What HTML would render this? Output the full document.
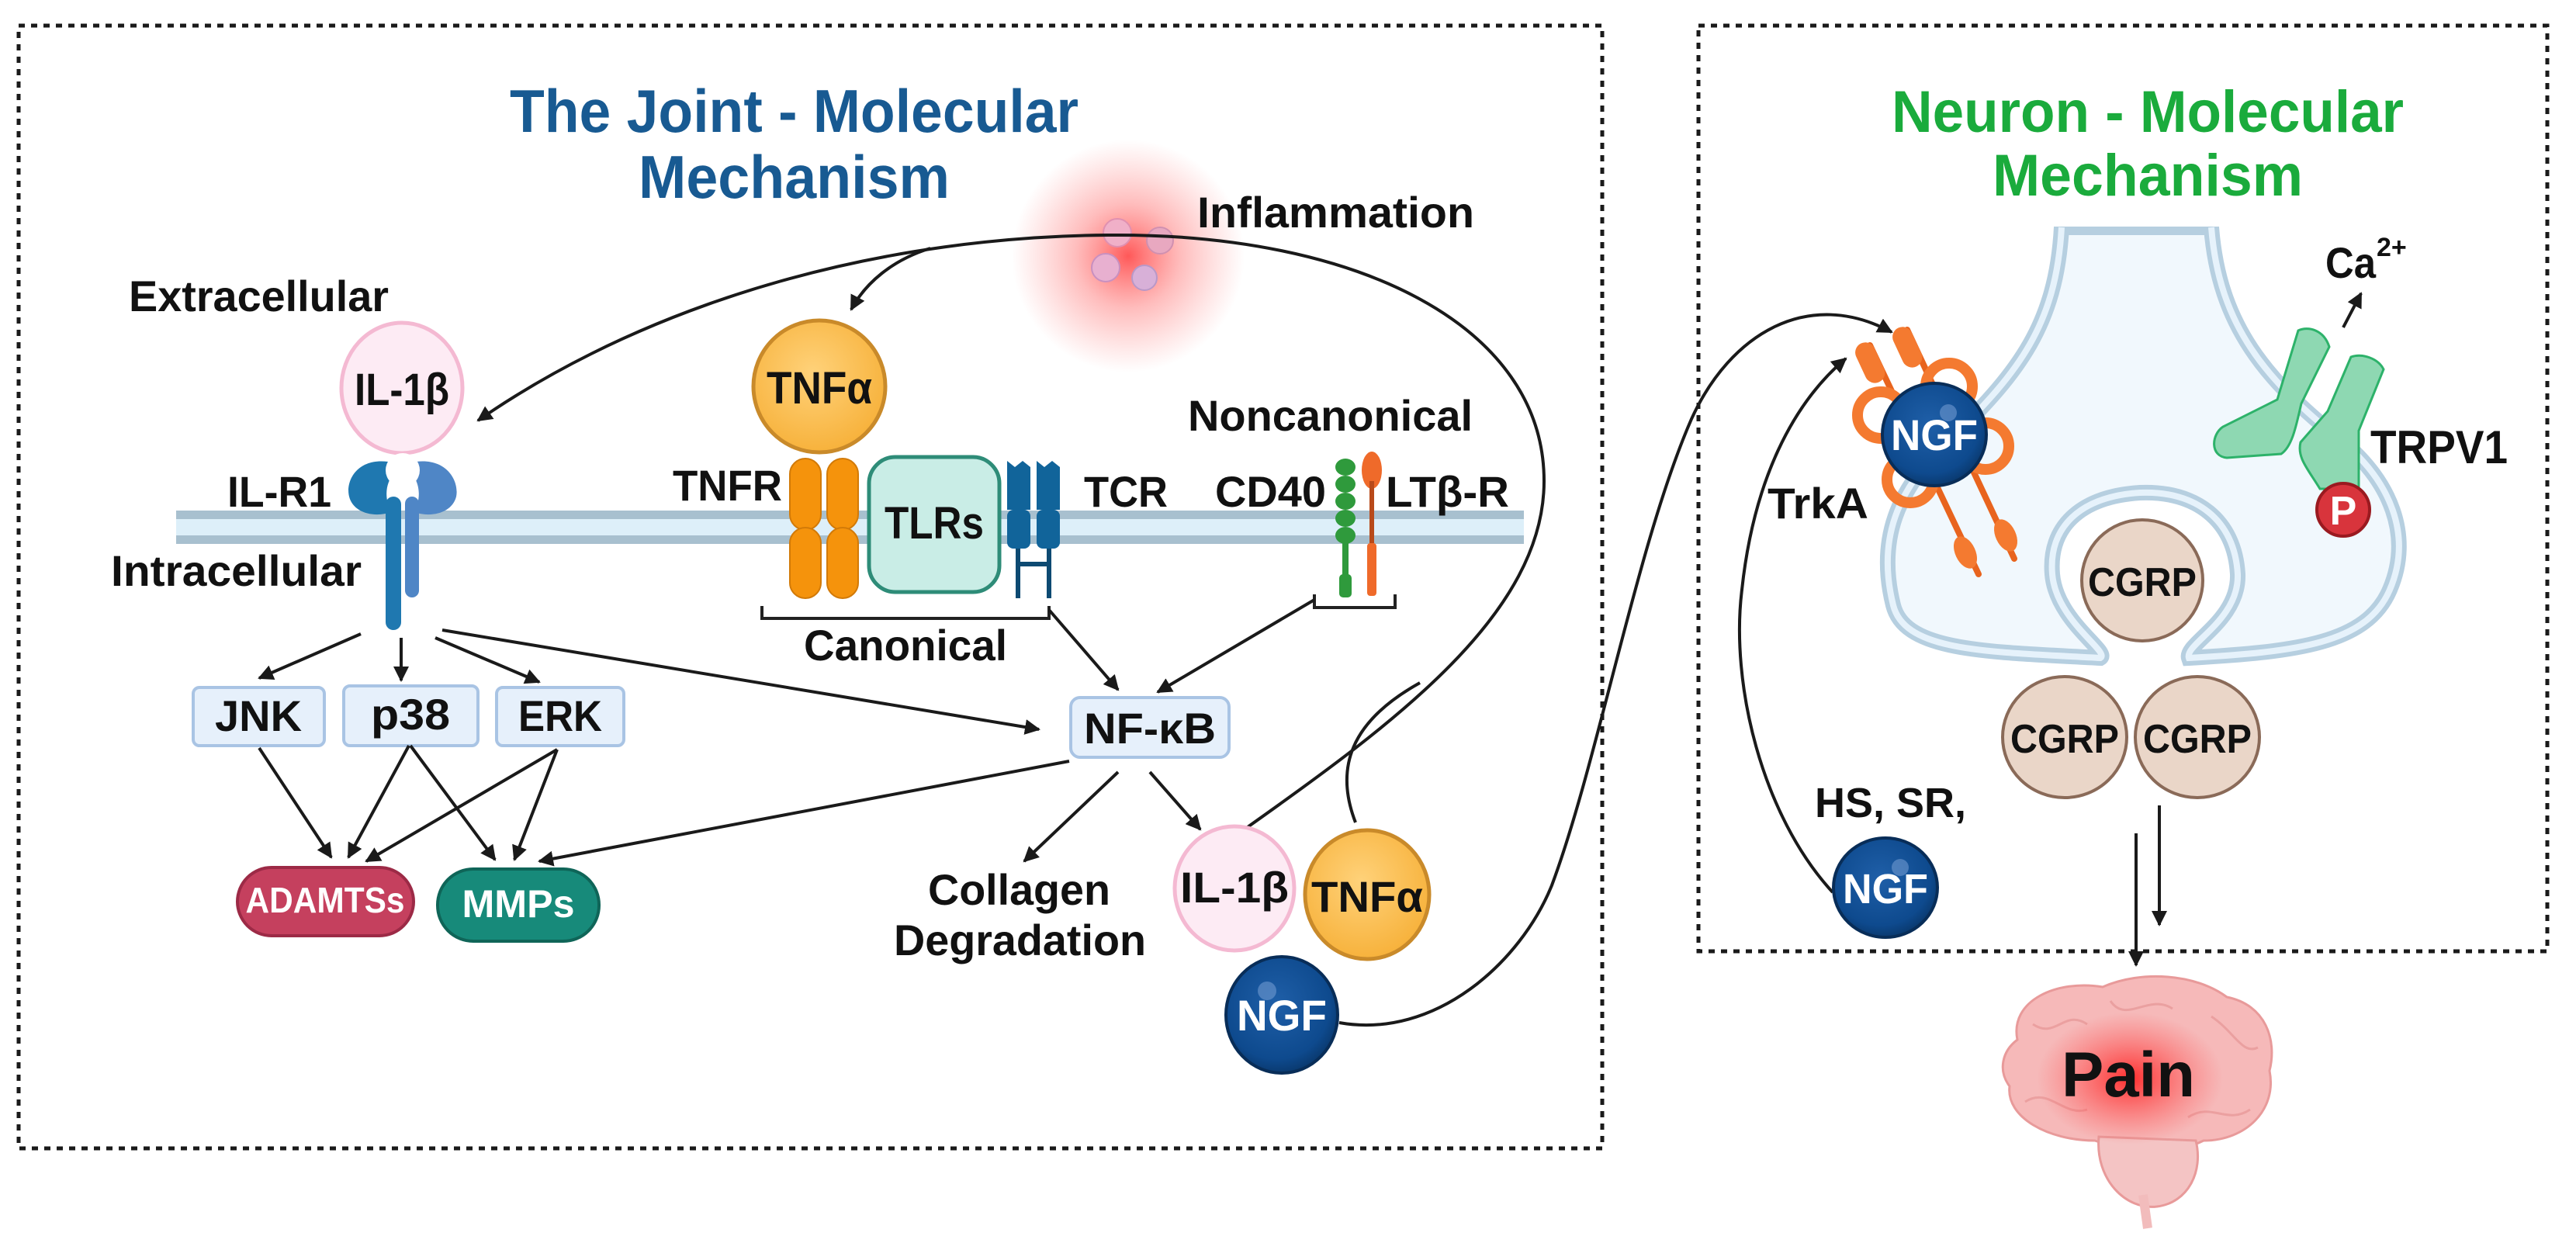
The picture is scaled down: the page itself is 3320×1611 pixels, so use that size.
<!DOCTYPE html>
<html><head><meta charset="utf-8"><style>
html,body{margin:0;padding:0;background:#fff;}
svg{display:block;}
text{font-family:"Liberation Sans",sans-serif;font-weight:bold;}
</style></head><body>
<svg width="3320" height="1611" viewBox="0 0 3320 1611" xmlns="http://www.w3.org/2000/svg">
<defs>
<marker id="ah" viewBox="0 0 10 10" refX="9" refY="5" markerWidth="5" markerHeight="5" orient="auto-start-reverse" markerUnits="strokeWidth">
<path d="M0,0 L10,5 L0,10 z" fill="#1a1a1a"/></marker>
<radialGradient id="glow"><stop offset="0" stop-color="#ff3b3b" stop-opacity="0.85"/><stop offset="0.45" stop-color="#ff6b6b" stop-opacity="0.45"/><stop offset="1" stop-color="#ff8080" stop-opacity="0"/></radialGradient>
<radialGradient id="bglow"><stop offset="0" stop-color="#ff2020" stop-opacity="0.9"/><stop offset="1" stop-color="#ff5050" stop-opacity="0"/></radialGradient>
<radialGradient id="ngf" cx="0.45" cy="0.4" r="0.6"><stop offset="0" stop-color="#1f5fa8"/><stop offset="0.8" stop-color="#0e4a8e"/><stop offset="1" stop-color="#0a3a70"/></radialGradient>
<radialGradient id="tnf" cx="0.45" cy="0.4" r="0.6"><stop offset="0" stop-color="#ffd27a"/><stop offset="1" stop-color="#f7b23c"/></radialGradient>
</defs>

<rect x="24" y="33" width="2041" height="1447" fill="none" stroke="#1a1a1a" stroke-width="5" stroke-dasharray="8 8"/>
<rect x="2189" y="33" width="1094" height="1193" fill="none" stroke="#1a1a1a" stroke-width="5" stroke-dasharray="8 8"/>

<text x="657" y="170" font-size="78" fill="#185a92" textLength="733" lengthAdjust="spacingAndGlyphs">The Joint - Molecular</text>
<text x="823" y="255" font-size="78" fill="#185a92" textLength="401" lengthAdjust="spacingAndGlyphs">Mechanism</text>
<text x="2438" y="170" font-size="76" fill="#1aab3c" textLength="660" lengthAdjust="spacingAndGlyphs">Neuron - Molecular</text>
<text x="2568" y="252" font-size="76" fill="#1aab3c" textLength="400" lengthAdjust="spacingAndGlyphs">Mechanism</text>

<circle cx="1454" cy="330" r="150" fill="url(#glow)"/>
<circle cx="1440" cy="300" r="18" fill="#f0b0c8" stroke="#e090b0" stroke-width="2"/>
<circle cx="1495" cy="310" r="17" fill="#e8a8c0" stroke="#d090b0" stroke-width="2"/>
<circle cx="1425" cy="345" r="18" fill="#e8b0d0" stroke="#c890c0" stroke-width="2"/>
<circle cx="1475" cy="358" r="16" fill="#d8b0d8" stroke="#b898c8" stroke-width="2"/>
<text x="1543" y="293" font-size="56" fill="#111" textLength="357" lengthAdjust="spacingAndGlyphs">Inflammation</text>

<rect x="227" y="658" width="1737" height="43" fill="#ddeff9"/>
<rect x="227" y="658" width="1737" height="11" fill="#a8c0cf"/>
<rect x="227" y="690" width="1737" height="11" fill="#a8c0cf"/>

<text x="166" y="401" font-size="56" fill="#111" textLength="335" lengthAdjust="spacingAndGlyphs">Extracellular</text>
<text x="293" y="653" font-size="56" fill="#111" textLength="134" lengthAdjust="spacingAndGlyphs">IL-R1</text>
<text x="143" y="755" font-size="56" fill="#111" textLength="323" lengthAdjust="spacingAndGlyphs">Intracellular</text>

<ellipse cx="518" cy="500" rx="78" ry="84" fill="#fdebf4" stroke="#f4b9d2" stroke-width="5"/>
<text x="518" y="522" font-size="58" fill="#111" text-anchor="middle" textLength="122" lengthAdjust="spacingAndGlyphs">IL-1β</text>

<path d="M500,595 C460,590 445,620 450,640 C455,660 480,668 505,660 C495,645 495,620 512,606 Z" fill="#1f78b0"/>
<path d="M536,595 C576,590 592,620 588,640 C583,660 558,668 533,660 C543,645 543,620 526,606 Z" fill="#4f86c6"/>
<circle cx="519" cy="606" r="22" fill="#fff"/>
<rect x="497" y="640" width="20" height="172" rx="10" fill="#1f78b0"/>
<rect x="522" y="640" width="18" height="130" rx="9" fill="#4f86c6"/>

<circle cx="1056" cy="498" r="85" fill="url(#tnf)" stroke="#c98a2a" stroke-width="5"/>
<text x="1056" y="520" font-size="58" fill="#111" text-anchor="middle" textLength="136" lengthAdjust="spacingAndGlyphs">TNFα</text>
<g fill="#f5930c" stroke="#d27a08" stroke-width="2">
<rect x="1018" y="591" width="40" height="92" rx="20"/><rect x="1018" y="680" width="40" height="91" rx="20"/>
<rect x="1066" y="591" width="40" height="92" rx="20"/><rect x="1066" y="680" width="40" height="91" rx="20"/>
</g>
<text x="867" y="645" font-size="56" fill="#111" textLength="141" lengthAdjust="spacingAndGlyphs">TNFR</text>
<rect x="1120" y="589" width="168" height="174" rx="34" fill="#c9ede6" stroke="#2e8c78" stroke-width="5"/>
<text x="1204" y="694" font-size="58" fill="#111" text-anchor="middle" textLength="128" lengthAdjust="spacingAndGlyphs">TLRs</text>
<g fill="#11649a">
<path d="M1298,594 l10,8 l10,-8 l10,8 l0,55 l-30,0 z"/><rect x="1298" y="657" width="30" height="50" rx="8"/>
<path d="M1336,594 l10,8 l10,-8 l10,8 l0,55 l-30,0 z"/><rect x="1336" y="657" width="30" height="50" rx="8"/>
</g>
<g stroke="#0d4a72" stroke-width="6"><line x1="1312" y1="707" x2="1312" y2="771"/><line x1="1352" y1="707" x2="1352" y2="771"/><line x1="1312" y1="727" x2="1352" y2="727"/></g>
<text x="1397" y="653" font-size="56" fill="#111" textLength="108" lengthAdjust="spacingAndGlyphs">TCR</text>
<text x="1531" y="555" font-size="56" fill="#111" textLength="367" lengthAdjust="spacingAndGlyphs">Noncanonical</text>
<text x="1566" y="653" font-size="56" fill="#111" textLength="143" lengthAdjust="spacingAndGlyphs">CD40</text>
<text x="1786" y="653" font-size="56" fill="#111" textLength="159" lengthAdjust="spacingAndGlyphs">LTβ-R</text>
<g fill="#2f9a3c"><ellipse cx="1734" cy="602" rx="13" ry="11"/><ellipse cx="1734" cy="624" rx="13" ry="11"/><ellipse cx="1734" cy="646" rx="13" ry="11"/><ellipse cx="1734" cy="668" rx="13" ry="11"/><ellipse cx="1734" cy="690" rx="13" ry="11"/><rect x="1730" y="690" width="8" height="55"/><rect x="1726" y="740" width="16" height="30" rx="5"/></g>
<g fill="#ef6a2a"><ellipse cx="1768" cy="606" rx="13" ry="24"/><rect x="1765" y="620" width="6" height="80" fill="#b84a1a"/><rect x="1762" y="700" width="12" height="68" rx="4"/></g>
<path d="M982,781 L982,797 L1352,797 L1352,781" fill="none" stroke="#222" stroke-width="4"/>
<text x="1036" y="851" font-size="56" fill="#111" textLength="262" lengthAdjust="spacingAndGlyphs">Canonical</text>
<path d="M1694,766 L1694,783 L1798,783 L1798,766" fill="none" stroke="#222" stroke-width="4"/>

<g fill="#e6f0fb" stroke="#a9c4e4" stroke-width="4">
<rect x="249" y="886" width="169" height="75" rx="8"/>
<rect x="443" y="884" width="173" height="77" rx="8"/>
<rect x="640" y="886" width="164" height="75" rx="8"/>
<rect x="1380" y="899" width="204" height="77" rx="12"/>
</g>
<text x="333" y="942" font-size="56" fill="#111" text-anchor="middle" textLength="112" lengthAdjust="spacingAndGlyphs">JNK</text>
<text x="529" y="940" font-size="56" fill="#111" text-anchor="middle" textLength="102" lengthAdjust="spacingAndGlyphs">p38</text>
<text x="722" y="942" font-size="56" fill="#111" text-anchor="middle" textLength="108" lengthAdjust="spacingAndGlyphs">ERK</text>
<text x="1482" y="958" font-size="56" fill="#111" text-anchor="middle" textLength="170" lengthAdjust="spacingAndGlyphs">NF-κB</text>
<rect x="306" y="1118" width="227" height="88" rx="44" fill="#c5405e" stroke="#9c2a46" stroke-width="4"/>
<text x="419" y="1176" font-size="46" fill="#fff" text-anchor="middle" textLength="205" lengthAdjust="spacingAndGlyphs">ADAMTSs</text>
<rect x="564" y="1120" width="208" height="93" rx="46" fill="#178a7a" stroke="#0f6558" stroke-width="4"/>
<text x="668" y="1182" font-size="50" fill="#fff" text-anchor="middle" textLength="145" lengthAdjust="spacingAndGlyphs">MMPs</text>

<g stroke="#1a1a1a" stroke-width="4" fill="none" marker-end="url(#ah)">
<line x1="465" y1="817" x2="334" y2="874"/>
<line x1="517" y1="822" x2="517" y2="877"/>
<line x1="561" y1="822" x2="695" y2="879"/>
<line x1="570" y1="812" x2="1339" y2="940"/>
<line x1="334" y1="964" x2="427" y2="1105"/>
<line x1="527" y1="961" x2="449" y2="1105"/>
<line x1="529" y1="961" x2="638" y2="1108"/>
<line x1="718" y1="966" x2="472" y2="1110"/>
<line x1="718" y1="966" x2="663" y2="1108"/>
<line x1="1378" y1="981" x2="695" y2="1110"/>
<line x1="1352" y1="786" x2="1441" y2="889"/>
<line x1="1694" y1="773" x2="1492" y2="892"/>
<line x1="1441" y1="995" x2="1320" y2="1110"/>
<line x1="1482" y1="995" x2="1547" y2="1069"/>
<path d="M1428,303 C1150,305 850,380 616,542"/>
<path d="M1199,320 C1150,335 1115,365 1097,399"/>
</g>
<g stroke="#1a1a1a" stroke-width="4" fill="none">
<path d="M1428,303 C1750,300 1990,420 1990,620 C1990,790 1800,930 1605,1068"/>
<path d="M1747,1060 C1720,990 1740,930 1830,880"/>
</g>

<text x="1196" y="1166" font-size="56" fill="#111" textLength="235" lengthAdjust="spacingAndGlyphs">Collagen</text>
<text x="1152" y="1231" font-size="56" fill="#111" textLength="325" lengthAdjust="spacingAndGlyphs">Degradation</text>

<ellipse cx="1591" cy="1145" rx="77" ry="80" fill="#fdebf4" stroke="#f4b9d2" stroke-width="5"/>
<text x="1591" y="1163" font-size="56" fill="#111" text-anchor="middle" textLength="140" lengthAdjust="spacingAndGlyphs">IL-1β</text>
<ellipse cx="1762" cy="1153" rx="80" ry="83" fill="url(#tnf)" stroke="#c98a2a" stroke-width="5"/>
<text x="1762" y="1175" font-size="56" fill="#111" text-anchor="middle" textLength="144" lengthAdjust="spacingAndGlyphs">TNFα</text>
<ellipse cx="1652" cy="1308" rx="72" ry="75" fill="url(#ngf)" stroke="#082d58" stroke-width="4"/>
<circle cx="1633" cy="1277" r="12" fill="#6f9ad0" opacity="0.6"/>
<text x="1652" y="1328" font-size="56" fill="#fff" text-anchor="middle" textLength="116" lengthAdjust="spacingAndGlyphs">NGF</text>

<path d="M1726,1318 C1850,1340 1960,1240 2000,1141 C2060,980 2110,700 2180,540 C2230,430 2330,370 2438,428" fill="none" stroke="#1a1a1a" stroke-width="4" marker-end="url(#ah)"/>

<path d="M2657,293 C2650,420 2600,480 2520,560 C2440,630 2420,700 2440,780 C2455,840 2560,840 2707,848 C2720,840 2650,800 2645,740 C2640,680 2680,640 2758,635 C2830,632 2880,670 2884,740 C2886,800 2815,830 2821,848 C2960,840 3050,830 3080,760 C3110,690 3080,620 3020,570 C2920,490 2860,420 2850,293 Z" fill="#f1f8fd" stroke="#b6cfe0" stroke-width="20"/>
<path d="M2657,293 C2650,420 2600,480 2520,560 C2440,630 2420,700 2440,780 C2455,840 2560,840 2707,848 C2720,840 2650,800 2645,740 C2640,680 2680,640 2758,635 C2830,632 2880,670 2884,740 C2886,800 2815,830 2821,848 C2960,840 3050,830 3080,760 C3110,690 3080,620 3020,570 C2920,490 2860,420 2850,293" fill="none" stroke="#e6f2fb" stroke-width="8"/>
<rect x="2640" y="270" width="230" height="22" fill="#fff"/>

<g stroke="#e8641e" stroke-width="8" fill="none" stroke-linecap="round">
<line x1="2410" y1="445" x2="2550" y2="740"/>
<line x1="2458" y1="425" x2="2596" y2="720"/>
</g>
<g fill="#f47a30">
<rect x="2397" y="440" width="26" height="55" rx="13" transform="rotate(-25 2410 467)"/>
<rect x="2445" y="420" width="26" height="55" rx="13" transform="rotate(-25 2458 447)"/>
<ellipse cx="2533" cy="712" rx="13" ry="22" transform="rotate(-25 2533 712)"/>
<ellipse cx="2585" cy="690" rx="13" ry="22" transform="rotate(-25 2585 690)"/>
</g>
<g fill="none" stroke="#f47a30" stroke-width="14">
<circle cx="2512" cy="498" r="30"/><circle cx="2424" cy="535" r="30"/><circle cx="2462" cy="618" r="30"/><circle cx="2559" cy="575" r="30"/>
</g>
<ellipse cx="2493" cy="560" rx="67" ry="66" fill="url(#ngf)" stroke="#082d58" stroke-width="4"/>
<circle cx="2511" cy="532" r="11" fill="#6f9ad0" opacity="0.6"/>
<text x="2493" y="580" font-size="56" fill="#fff" text-anchor="middle" textLength="112" lengthAdjust="spacingAndGlyphs">NGF</text>
<text x="2278" y="668" font-size="56" fill="#111" textLength="130" lengthAdjust="spacingAndGlyphs">TrkA</text>

<path d="M2962,426 C2975,420 2995,425 3002,447 L2966,520 C2960,545 2955,575 2940,585 L2870,590 C2848,588 2850,560 2865,550 L2935,515 Z" fill="#8ed8b2" stroke="#2db26a" stroke-width="3"/>
<path d="M3030,460 C3045,455 3065,462 3072,476 L3040,555 L3040,630 L2990,630 C2975,605 2960,590 2965,570 L3000,530 Z" fill="#8ed8b2" stroke="#2db26a" stroke-width="3"/>
<circle cx="3020" cy="657" r="34" fill="#d8343c" stroke="#9a1a20" stroke-width="4"/>
<text x="3020" y="676" font-size="52" fill="#fff" text-anchor="middle">P</text>
<text x="3055" y="597" font-size="60" fill="#111" textLength="177" lengthAdjust="spacingAndGlyphs">TRPV1</text>
<text x="2997" y="358" font-size="56" fill="#111" textLength="65" lengthAdjust="spacingAndGlyphs">Ca</text>
<text x="3063" y="330" font-size="34" fill="#111">2+</text>
<line x1="3020" y1="422" x2="3043" y2="378" stroke="#1a1a1a" stroke-width="4" marker-end="url(#ah)"/>

<g fill="#ead6c8" stroke="#8a6a58" stroke-width="4">
<ellipse cx="2761" cy="748" rx="78" ry="78"/>
<ellipse cx="2661" cy="950" rx="80" ry="78"/>
<ellipse cx="2832" cy="950" rx="80" ry="78"/>
</g>
<text x="2761" y="768" font-size="52" fill="#111" text-anchor="middle" textLength="140" lengthAdjust="spacingAndGlyphs">CGRP</text>
<text x="2661" y="970" font-size="52" fill="#111" text-anchor="middle" textLength="140" lengthAdjust="spacingAndGlyphs">CGRP</text>
<text x="2832" y="970" font-size="52" fill="#111" text-anchor="middle" textLength="140" lengthAdjust="spacingAndGlyphs">CGRP</text>
<g stroke="#1a1a1a" stroke-width="4" marker-end="url(#ah)">
<line x1="2753" y1="1074" x2="2753" y2="1244"/>
<line x1="2783" y1="1038" x2="2783" y2="1192"/>
</g>

<text x="2339" y="1053" font-size="54" fill="#111" textLength="195" lengthAdjust="spacingAndGlyphs">HS, SR,</text>
<path d="M2362,1150 C2270,1050 2230,880 2245,760 C2260,620 2310,520 2379,462" fill="none" stroke="#1a1a1a" stroke-width="4" marker-end="url(#ah)"/>
<ellipse cx="2430" cy="1144" rx="67" ry="64" fill="url(#ngf)" stroke="#082d58" stroke-width="4"/>
<circle cx="2449" cy="1118" r="11" fill="#6f9ad0" opacity="0.6"/>
<text x="2430" y="1164" font-size="54" fill="#fff" text-anchor="middle" textLength="110" lengthAdjust="spacingAndGlyphs">NGF</text>

<path d="M2600,1340 C2590,1290 2650,1262 2710,1272 C2760,1250 2830,1255 2870,1285 C2920,1295 2935,1340 2925,1380 C2935,1430 2895,1470 2840,1470 C2800,1490 2740,1485 2700,1470 C2640,1470 2585,1440 2590,1400 C2575,1380 2580,1355 2600,1340 Z" fill="#f6b9b9" stroke="#e89a9a" stroke-width="3"/>
<path d="M2705,1465 C2700,1520 2740,1560 2780,1555 C2820,1550 2840,1510 2830,1470 Z" fill="#f4c4c4" stroke="#e89a9a" stroke-width="3"/>
<path d="M2762,1540 L2768,1583" stroke="#f2bcbc" stroke-width="12"/>
<g fill="none" stroke="#e89a9a" stroke-width="3" opacity="0.8">
<path d="M2620,1320 C2650,1340 2660,1300 2690,1320"/><path d="M2720,1290 C2740,1320 2770,1280 2800,1300"/><path d="M2850,1310 C2880,1330 2890,1360 2910,1350"/><path d="M2610,1420 C2640,1400 2660,1440 2690,1430"/><path d="M2820,1440 C2850,1420 2870,1450 2900,1430"/>
</g>
<ellipse cx="2745" cy="1390" rx="120" ry="85" fill="url(#bglow)"/>
<text x="2657" y="1413" font-size="82" fill="#111" textLength="172" lengthAdjust="spacingAndGlyphs">Pain</text>
</svg>
</body></html>
